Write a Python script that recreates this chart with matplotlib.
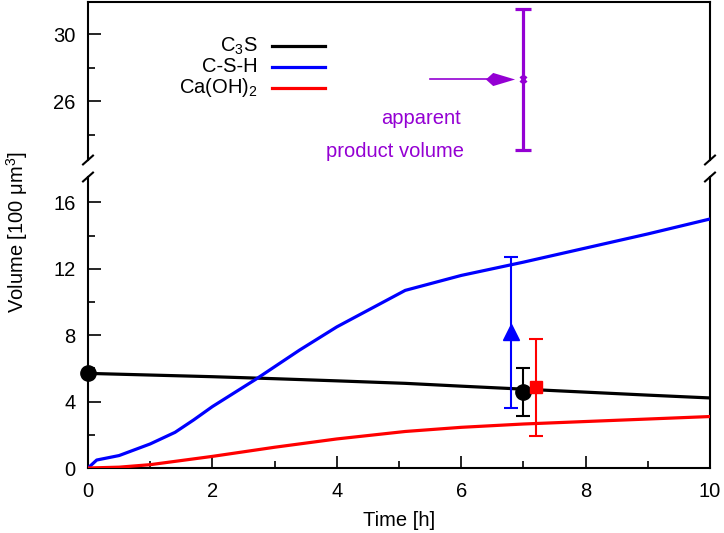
import matplotlib
matplotlib.use('Agg')
import matplotlib.pyplot as plt
import numpy as np
from matplotlib.path import Path

plt.rcParams['font.family'] = ['Liberation Sans', 'DejaVu Sans']
plt.rcParams['mathtext.fontset'] = 'custom'
plt.rcParams['mathtext.rm'] = 'Liberation Sans'
FS = 14.5

# simulated curves
t_c3s = [0, 1, 2, 3, 4, 5.1, 6, 7, 8, 9, 10]
v_c3s = [5.7, 5.6, 5.5, 5.38, 5.25, 5.1, 4.93, 4.75, 4.57, 4.39, 4.22]

t_csh = [0, 0.14, 0.5, 1.0, 1.4, 1.7, 2.0, 2.7, 3.0, 3.4, 4.0, 5.1, 6, 7, 8, 9, 10]
v_csh = [0, 0.48, 0.75, 1.45, 2.15, 2.9, 3.7, 5.35, 6.1, 7.1, 8.5, 10.7, 11.6, 12.4, 13.25, 14.1, 15.0]

t_ch = [0, 0.5, 1.0, 2.0, 3.0, 4.0, 5.1, 6, 7, 8, 9, 10]
v_ch = [0, 0.05, 0.2, 0.7, 1.25, 1.75, 2.2, 2.45, 2.65, 2.8, 2.95, 3.1]

labels = ['C$_3$S', 'C-S-H', 'Ca(OH)$_2$']

# measured points (time, value, low, high)
meas_csh = (6.8, 8.2, 3.6, 12.7)
meas_c3s = (7.0, 4.6, 3.15, 6.0)
meas_ch = (7.2, 4.85, 1.9, 7.8)
c3s_start = (0.0, 5.7)

# apparent product volume
apv = (7.0, 27.3, 23.1, 31.5)
arrow_from = 5.5
arrow_to = 6.85

fig = plt.figure(figsize=(7.24, 5.33), dpi=100)
W, H = 724, 533
left, right = 88 / W, 710 / W
ax_top = fig.add_axes([left, 1 - 160 / H, right - left, (160 - 2) / H])
ax_bot = fig.add_axes([left, 1 - 468 / H, right - left, (468 - 177) / H])

for ax in (ax_top, ax_bot):
    ax.set_xlim(0, 10)
    for s in ax.spines.values():
        s.set_linewidth(1.5)
    ax.tick_params(which='both', direction='in', right=False, top=False,
                   width=1.2, labelsize=FS)
    ax.tick_params(which='major', length=9)
    ax.tick_params(which='minor', length=5)
    ax.tick_params(axis='y', pad=9)

ax_top.set_ylim(22.48, 31.91)
ax_top.spines['bottom'].set_visible(False)
ax_top.set_yticks([26, 30])
ax_top.set_yticks([24, 28], minor=True)
ax_top.set_xticks([])
ax_top.tick_params(which='both', bottom=False, labelbottom=False)

ax_bot.set_ylim(0, 17.53)
ax_bot.spines['top'].set_visible(False)
ax_bot.set_yticks([0, 4, 8, 12, 16])
ax_bot.set_yticks([2, 6, 10, 14], minor=True)
ax_bot.set_xticks([0, 2, 4, 6, 8, 10])
ax_bot.set_xticks([1, 3, 5, 7, 9], minor=True)
ax_bot.tick_params(axis='x', pad=10)

# curves
colors = ['black', '#0000ff', '#ff0000']
for t, v, c, lab in zip([t_c3s, t_csh, t_ch], [v_c3s, v_csh, v_ch], colors, labels):
    ax_bot.plot(t, v, color=c, lw=2.3, label=lab, zorder=3)

ax_bot.plot(*c3s_start, 'o', color='black', ms=11, clip_on=False, zorder=5)

for (tm, v, lo, hi), col, mk, ms in [(meas_csh, '#0000ff', '^', 11),
                                      (meas_c3s, 'black', 'o', 11),
                                      (meas_ch, '#ff0000', 's', 9)]:
    ax_bot.errorbar([tm], [v], yerr=[[v - lo], [hi - v]], fmt=mk, color=col,
                    ms=ms, elinewidth=1.5, capsize=5, capthick=1.5, zorder=4)

# legend drawn by hand in the top panel (label on the left, line on the right)
leg_y = [0.7215, 0.589, 0.456]
for yy, c, lab in zip(leg_y, colors, labels):
    ax_top.text(0.2733, yy, lab, transform=ax_top.transAxes, ha='right',
                va='center', fontsize=FS)
    ax_top.plot([0.2958, 0.381], [yy, yy], transform=ax_top.transAxes,
                color=c, lw=2.3)

# apparent product volume
purple = '#9400d3'
tm, v, lo, hi = apv
ax_top.errorbar([tm], [v], yerr=[[v - lo], [hi - v]], fmt='none', ecolor=purple,
                elinewidth=2.3, capsize=6, capthick=2.3)
ax_top.plot([tm], [v], marker='x', color=purple, ms=5, mew=2)
ax_top.plot([arrow_from, arrow_to - 0.1], [v, v], color=purple, lw=1.2)
head = Path([(-1, 0), (-0.5, 0.45), (1, 0), (-0.5, -0.45), (-1, 0)],
            [Path.MOVETO, Path.LINETO, Path.LINETO, Path.LINETO, Path.CLOSEPOLY])
ax_top.plot([arrow_to - 0.22], [v, ][:1], marker=head, color=purple, ms=21, mew=0)
ax_top.text(6.0, 24.95, 'apparent', color=purple, fontsize=FS,
            ha='right', va='center')
ax_top.text(6.05, 23.0, 'product volume', color=purple, fontsize=FS,
            ha='right', va='center')

# break marks
dx, dy = 0.008, 0.028
for ax, yb, sc in [(ax_top, 0.0, 1.0), (ax_bot, 1.0, 158 / 291)]:
    for xb in (0, 1):
        ax.plot([xb - dx, xb + dx], [yb - dy * sc, yb + dy * sc],
                transform=ax.transAxes, color='black', lw=1.5, clip_on=False)

fig.text(0.5 * (left + right), 1 - 521 / H, 'Time [h]', ha='center',
         va='center', fontsize=FS)
fig.text(17 / W, 1 - 232 / H, 'Volume [100 μm$^3$]', rotation=90,
         ha='center', va='center', fontsize=FS)

fig.savefig('out.png', dpi=100)
